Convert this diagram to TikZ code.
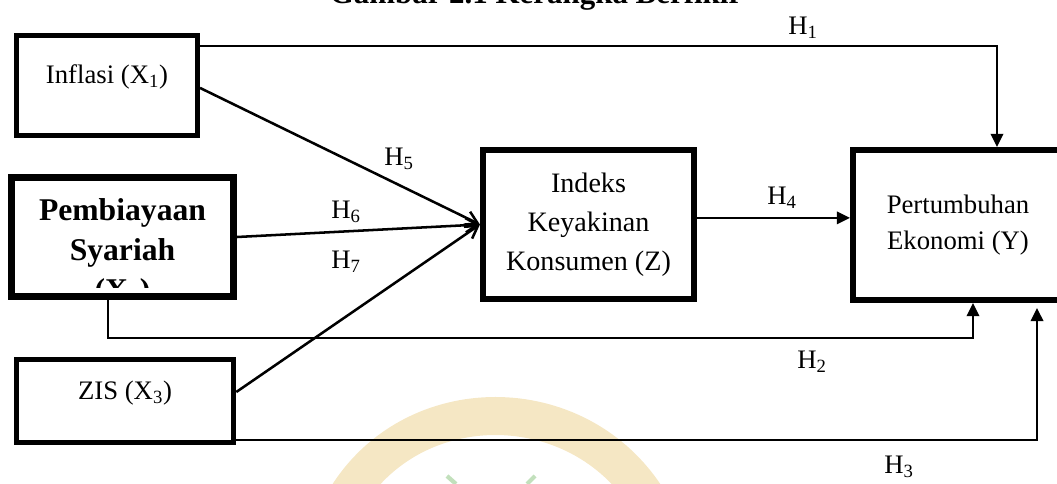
\documentclass[tikz,border=0pt]{standalone}
\usepackage{fontspec}
\setmainfont{Liberation Serif}
\usetikzlibrary{arrows.meta}
\definecolor{wmyellow}{HTML}{F5E7C4}
\definecolor{wmgreen}{HTML}{C2E0BC}

\begin{document}
\begin{tikzpicture}[x=0.025cm,y=-0.025cm,
    varbox/.style={draw,rectangle,line width=3.5pt,inner sep=0pt},
    vartext/.style={font=\fontsize{19}{23}\selectfont},
    thinline/.style={line width=1pt,-{Triangle[length=0.33cm,width=0.32cm]}},
    pathline/.style={line width=1.8pt,-{Straight Barb[length=0.3cm,width=0.36cm]}},
    hlabel/.style={font=\fontsize{19}{22}\selectfont}]
            \useasboundingbox (0,0) rectangle (1057,484);
            % faint logo behind the figure
            \draw [line width=0.95cm,wmyellow] (345,500) .. controls (412,388) and (578,388) .. (648,500);
            \draw [line width=3pt,wmgreen] (447,476) -- (456,484);
            \draw [line width=3pt,wmgreen] (535,476) -- (527,484);
            \node [font=\bfseries\fontsize{22}{26}\selectfont,anchor=base] (title) at (536,4) {Gambar 2.1 Kerangka Berfikir};
            % independent variables
            \node [varbox,minimum width=4.525cm,minimum height=2.5cm] (x1) at (107,85.5) {};
            \node [vartext] (x1t) at (107,76.5) {Inflasi (X\textsubscript{1})};
            \node [varbox,line width=5pt,minimum width=5.55cm,minimum height=2.975cm,
                   path picture={\clip ([yshift=0.22cm]path picture bounding box.south west) rectangle (path picture bounding box.north east);
                   \node [font=\bfseries\fontsize{22.5}{28.5}\selectfont,align=center] (x2t)
                   at ([yshift=-0.39cm]path picture bounding box.center) {Pembiayaan\\Syariah\\(X\textsubscript{2})};}] (x2) at (122.5,237) {};
            \node [varbox,minimum width=5.44cm,minimum height=2.075cm] (x3) at (125,401) {};
            \node [vartext] (x3t) at (125,393.5) {ZIS (X\textsubscript{3})};
            % intervening and dependent variables
            \node [varbox,line width=4.3pt,minimum width=5.275cm,minimum height=3.725cm,align=center,
                   font=\fontsize{20}{27.7}\selectfont] (z) at (588.5,224.5) {Indeks\\Keyakinan\\Konsumen (Z)};
            \node [varbox,line width=4.3pt,minimum width=5.25cm,minimum height=3.75cm,align=center,
                   font=\fontsize{19}{26.2}\selectfont] (y) at (958,225) {Pertumbuhan\\Ekonomi (Y)};
            % direct paths
            \draw [thinline] ([yshift=-0.325cm]x1.north east) -| ([xshift=0.975cm]y.north);
            \draw [thinline] ([xshift=-0.3625cm]x2.south) -- ++(0,38) -| ([xshift=0.375cm]y.south);
            \draw [thinline] ([yshift=-0.975cm]x3.east) -| ([xshift=1.975cm,yshift=-0.125cm]y.south);
            \draw [thinline] ([yshift=0.165cm]z.east) -- ([yshift=0.165cm]z.east -| y.west);
            % paths through Z
            \draw [pathline] ([yshift=-0.06cm]x1.east) -- (z.west);
            \draw [pathline] (x2.east) -- (z.west);
            \draw [pathline] ([yshift=0.225cm]x3.east) -- (z.west);
            \node [hlabel] (h1) at (803,28) {H\textsubscript{1}};
            \node [hlabel] (h2) at (812,362) {H\textsubscript{2}};
            \node [hlabel] (h3) at (899,467) {H\textsubscript{3}};
            \node [hlabel] (h4) at (782,198) {H\textsubscript{4}};
            \node [hlabel] (h5) at (399,159) {H\textsubscript{5}};
            \node [hlabel] (h6) at (346,212) {H\textsubscript{6}};
            \node [hlabel] (h7) at (346,262) {H\textsubscript{7}};
        \end{tikzpicture}
\end{document}
